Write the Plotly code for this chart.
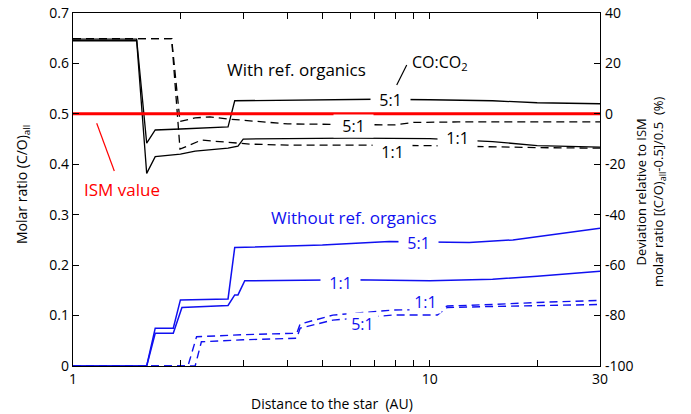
import math
import plotly.graph_objects as go

# ---------------- data ----------------
# With refractory organics (black)
with_51_x = [1, 1.508, 1.609, 1.70, 2.0, 2.5, 2.72, 2.84, 3.5, 5, 7, 10, 15, 20, 30]
with_51_y = [0.648, 0.648, 0.442, 0.468, 0.470, 0.472, 0.474, 0.526, 0.527, 0.528, 0.529, 0.528, 0.526, 0.522, 0.520]

with_11_x = [1, 1.508, 1.609, 1.70, 2.0, 2.2, 2.72, 2.9, 3.0, 4, 6, 10, 15, 20, 30]
with_11_y = [0.645, 0.645, 0.382, 0.415, 0.420, 0.426, 0.432, 0.436, 0.450, 0.451, 0.452, 0.451, 0.445, 0.437, 0.434]

with_51_dash_x = [1, 1.89, 1.995, 2.2, 2.42, 2.7, 4, 6, 8, 9, 12, 20, 30]
with_51_dash_y = [0.649, 0.649, 0.485, 0.492, 0.494, 0.490, 0.480, 0.478, 0.478, 0.483, 0.484, 0.484, 0.484]

with_11_dash_x = [1, 1.89, 1.995, 2.29, 3.13, 4, 6, 10, 20, 30]
with_11_dash_y = [0.649, 0.649, 0.430, 0.448, 0.440, 0.438, 0.438, 0.437, 0.433, 0.432]

# Without refractory organics (blue)
wo_51_x = [1, 1.609, 1.70, 1.91, 2.0, 2.72, 2.84, 3.5, 5, 7.7, 12.9, 17.1, 23.6, 30]
wo_51_y = [0, 0, 0.075, 0.075, 0.131, 0.133, 0.235, 0.237, 0.240, 0.247, 0.245, 0.250, 0.264, 0.273]

wo_11_x = [1, 1.609, 1.70, 1.91, 2.02, 2.72, 2.84, 2.90, 3.03, 4, 6, 10, 15, 20, 30]
wo_11_y = [0, 0, 0.065, 0.065, 0.116, 0.120, 0.141, 0.141, 0.169, 0.170, 0.171, 0.169, 0.172, 0.178, 0.188]

wo_11_dash_x = [1, 2.10, 2.22, 3.0, 4.24, 4.33, 5.35, 7.88, 10.5, 11.2, 15, 20, 30]
wo_11_dash_y = [0, 0, 0.058, 0.062, 0.065, 0.083, 0.101, 0.111, 0.112, 0.119, 0.122, 0.126, 0.130]

wo_51_dash_x = [1, 2.20, 2.29, 3.0, 4.24, 4.33, 5.35, 7.88, 10.5, 11.2, 15, 20, 30]
wo_51_dash_y = [0, 0, 0.048, 0.052, 0.055, 0.075, 0.091, 0.101, 0.101, 0.116, 0.118, 0.120, 0.122]

ism_x = [1, 30]
ism_value = 0.5

left_ticks = [0, 0.1, 0.2, 0.3, 0.4, 0.5, 0.6, 0.7]
right_ticks = [-100, -80, -60, -40, -20, 0, 20, 40]
x_ticks = [1, 10, 30]
x_minor = [2, 3, 4, 5, 6, 7, 8, 9, 20]

# ---------------- styling ----------------
FONT = "Open Sans"
BLACK = "#000000"
BLUE = "#1010F0"
RED = "#FF0000"
W, H = 691, 414
L, R, T, B = 73, 600, 13, 366


def px(x):
    return (x - L) / (R - L)


def py(y):
    return (B - y) / (B - T)


fig = go.Figure()

def add_line(x, y, color, dash="solid", width=1.3):
    fig.add_trace(go.Scatter(x=x, y=y, mode="lines",
                             line=dict(color=color, width=width, dash=dash),
                             hoverinfo="skip", showlegend=False))

DASH = "8px,5px"
add_line(wo_11_dash_x, wo_11_dash_y, BLUE, DASH, 1.4)
add_line(wo_51_dash_x, wo_51_dash_y, BLUE, DASH, 1.4)
add_line(wo_51_x, wo_51_y, BLUE, "solid", 1.5)
add_line(wo_11_x, wo_11_y, BLUE, "solid", 1.5)
add_line(with_51_dash_x, with_51_dash_y, BLACK, DASH)
add_line(with_11_dash_x, with_11_dash_y, BLACK, DASH)
add_line(with_51_x, with_51_y, BLACK)
add_line(with_11_x, with_11_y, BLACK)
add_line(ism_x, [ism_value] * len(ism_x), RED, "solid", 3)

# invisible trace to activate the right axis
fig.add_trace(go.Scatter(x=[1, 30], y=[-100, 40], yaxis="y2", mode="lines",
                         line=dict(width=0), opacity=0, hoverinfo="skip",
                         showlegend=False))

annotations = []

def label(text, x, y, color, size, bg=False, angle=0):
    annotations.append(dict(
        text=text, x=px(x), y=py(y), xref="paper", yref="paper",
        showarrow=False, textangle=angle,
        font=dict(family=FONT, size=size, color=color),
        bgcolor="white" if bg else "rgba(0,0,0,0)", borderpad=0,
        xanchor="center", yanchor="middle"))

NB = "\u00a0"
label("With ref. organics", 296, 70, BLACK, 17)
label("CO:CO<sub>2</sub>", 440, 62, BLACK, 16)
label(NB * 2 + "5:1" + NB * 2, 390, 100, BLACK, 16, bg=True)
label(NB * 2 + "5:1" + NB * 2, 353, 126.5, BLACK, 16, bg=True)
label(NB * 2 + "1:1" + NB * 2, 457, 137.5, BLACK, 16, bg=True)
label(NB * 2 + "1:1" + NB * 2, 392, 152, BLACK, 16, bg=True)
label("ISM value", 122, 189, RED, 17)
label("Without ref. organics", 354, 218, BLUE, 17)
label(NB * 2 + "5:1" + NB * 2, 418, 243, BLUE, 16, bg=True)
label(NB * 2 + "1:1" + NB * 2, 340, 283, BLUE, 16, bg=True)
label(NB + "1:1" + NB, 425, 302, BLUE, 16, bg=True)
label(NB + "5:1" + NB, 362, 324, BLUE, 16, bg=True)

# axis titles
label("Molar ratio (C/O)<sub>all</sub>", 22, 185, BLACK, 14, angle=-90)
label("Deviation relative to ISM<br>molar ratio [(C/O)<sub>all</sub>-0.5]/0.5  (%)",
      651, 192, BLACK, 13, angle=-90)
label("Distance to the star  (AU)", 332, 403, BLACK, 14)

shapes = [
    dict(type="line", xref="paper", yref="paper",
         x0=px(396.7), y0=py(85), x1=px(406.7), y1=py(65),
         line=dict(color=BLACK, width=1.2)),
    dict(type="line", xref="paper", yref="paper",
         x0=px(96.7), y0=py(123.3), x1=px(114.3), y1=py(171),
         line=dict(color=RED, width=1.2)),
]

fig.update_layout(
    width=W, height=H,
    margin=dict(l=L, r=W - R, t=T, b=H - B, pad=0, autoexpand=False),
    paper_bgcolor="white", plot_bgcolor="white",
    font=dict(family=FONT, size=14, color=BLACK),
    showlegend=False,
    annotations=annotations,
    shapes=shapes,
    xaxis=dict(type="log", range=[0, math.log10(30)], automargin=False,
               tickvals=x_ticks, ticktext=[str(v) for v in x_ticks],
               ticks="inside", ticklen=6, tickcolor=BLACK,
               minor=dict(tickvals=x_minor, ticks="inside", ticklen=4,
                          tickcolor=BLACK),
               showline=True, linecolor=BLACK, linewidth=1.3,
               mirror="allticks", showgrid=False, zeroline=False,
               tickfont=dict(family=FONT, size=14)),
    yaxis=dict(range=[0, 0.7], tickvals=left_ticks, automargin=False,
               ticktext=[f"{v:g}" for v in left_ticks],
               ticks="inside", ticklen=6, tickcolor=BLACK,
               showline=True, linecolor=BLACK, linewidth=1.3,
               mirror="allticks", showgrid=False, zeroline=False,
               tickfont=dict(family=FONT, size=14)),
    yaxis2=dict(range=[-100, 40], overlaying="y", side="right", automargin=False,
                tickvals=right_ticks, ticktext=[str(v) for v in right_ticks],
                ticks="", showline=False, showgrid=False, zeroline=False,
                ticklabelstandoff=4,
                tickfont=dict(family=FONT, size=14)),
)

fig.write_html("out.html", config={"displayModeBar": False},
               post_script="document.body.style.margin='0';document.body.style.overflow='hidden';")
